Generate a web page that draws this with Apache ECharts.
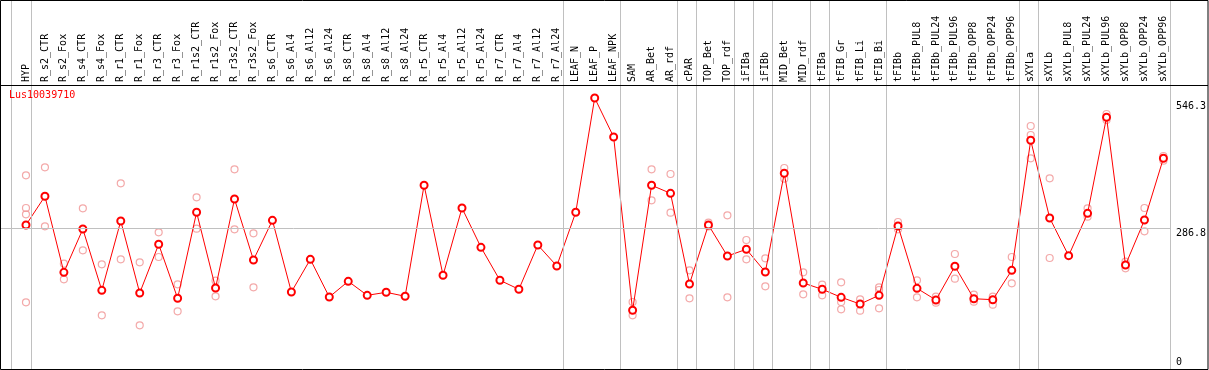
<!DOCTYPE html>
<html>
<head>
<meta charset="utf-8">
<script src="https://cdn.jsdelivr.net/npm/echarts@6/dist/echarts.min.js"></script>
<style>
html,body{margin:0;padding:0;background:#fff;}
#chart{width:1209px;height:370px;}
</style>
</head>
<body>
<div id="chart"></div>
<script>
const geneName = 'Lus10039710';
const categories = ['HYP','R_s2_CTR','R_s2_Fox','R_s4_CTR','R_s4_Fox','R_r1_CTR','R_r1_Fox','R_r3_CTR','R_r3_Fox','R_r1s2_CTR','R_r1s2_Fox','R_r3s2_CTR','R_r3s2_Fox','R_s6_CTR','R_s6_Al4','R_s6_Al12','R_s6_Al24','R_s8_CTR','R_s8_Al4','R_s8_Al12','R_s8_Al24','R_r5_CTR','R_r5_Al4','R_r5_Al12','R_r5_Al24','R_r7_CTR','R_r7_Al4','R_r7_Al12','R_r7_Al24','LEAF_N','LEAF_P','LEAF_NPK','SAM','AR_Bet','AR_rdf','cPAR','TOP_Bet','TOP_rdf','iFIBa','iFIBb','MID_Bet','MID_rdf','tFIBa','tFIB_Gr','tFIB_Li','tFIB_Bi','tFIBb','tFIBb_PUL8','tFIBb_PUL24','tFIBb_PUL96','tFIBb_OPP8','tFIBb_OPP24','tFIBb_OPP96','sXYLa','sXYLb','sXYLb_PUL8','sXYLb_PUL24','sXYLb_PUL96','sXYLb_OPP8','sXYLb_OPP24','sXYLb_OPP96'];
const means = [293.0,352.0,195.7,284.7,158.7,301.2,153.2,253.3,142.3,319.1,163.4,346.4,221.0,302.6,155.2,222.4,144.9,177.2,148.4,154.6,146.4,374.6,189.6,327.9,247.1,179.3,160.8,251.8,208.7,319.1,554.1,473.9,117.6,374.6,358.1,171.7,293.0,229.2,243.0,196.3,399.3,173.7,160.8,144.3,130.5,148.4,290.9,162.8,138.8,208.1,141.4,139.4,199.8,467.1,307.4,229.9,317.0,514.4,210.7,303.2,430.1];
const replicates = [
  [395.1,327.9,315.0,134.0],[411.6,290.3],[213.4,181.3],[327.3,241.0],[212.2,107.3],[378.7,222.4],[216.3,86.8],[278.0,227.2],[171.1,115.5],[349.9,285.4],[178.5,146.4],[407.5,284.1],[275.9,164.9],
  [],[],[],[],[],[],[],[],[],[],[],[],[],[],[],[],
  [],[],[],
  [134.7,107.3],[407.5,343.7],[397.8,318.3],[199.8,142.3],[297.7,290.0],[312.9,144.3],[262.1,222.4],[224.5,166.9],[410.2,388.2],[195.7,150.5],[170.2,148.4],[175.2,134.7,119.7],[140.2,116.8],[164.9,159.3,121.7],[299.1,284.1],
  [179.3,144.3],[145.6,133.2],[233.3,182.6],[149.7,135.3],[145.6,129.1],[227.2,173.1],
  [496.5,478.0,430.1],[389.0,225.1],[],[327.3,310.0],[521.2,508.8],[217.5,203.9],[327.9,280.0],[434.8,425.2]
];
const yTickLabels = [0, 286.8, 546.3];
const gridLineValues = [286.8];
const groupBreaksAfter = ['HYP','R_r7_Al24','LEAF_NPK','AR_rdf','cPAR','TOP_rdf','iFIBa','iFIBb','MID_rdf','tFIBa','tFIB_Bi','tFIBb_OPP96','sXYLa','sXYLb_OPP96'];

const FONT = 'DejaVu Sans Mono';
const K = 0.4864;            // px per unit
const ZERO_Y = 367.5;        // pixel of value 0
const yMin0 = (ZERO_Y - 369) / K;
const yMax0 = (ZERO_Y - 85) / K;
const yMax1 = ZERO_Y / K;
const step = 19, firstX = 26;
const x1Min = (1 - firstX) / step;
const x1Max = (1171 - firstX) / step;

const sepValues = [-0.8].concat(groupBreaksAfter.map(n => Math.min(categories.indexOf(n) + 0.25, x1Max - 0.05)));
const scatterData = [];
replicates.forEach((arr, i) => arr.forEach(v => scatterData.push([i, v])));

const chart = echarts.init(document.getElementById('chart'), null, {renderer: 'canvas'});
chart.setOption({
  backgroundColor: '#ffffff',
  animation: false,
  title: {
    text: geneName, left: 9, top: 90, padding: 0,
    textStyle: {color: '#ff0000', fontSize: 10, fontWeight: 'normal', fontFamily: FONT}
  },
  grid: [
    {left: 16.5, right: 33.5, top: 85, bottom: 1, containLabel: false},
    {left: 1, right: 38, top: 0, bottom: 1, containLabel: false}
  ],
  xAxis: [
    {
      type: 'category', gridIndex: 0, position: 'top', data: categories, boundaryGap: true,
      axisLine: {show: false}, axisTick: {show: false}, splitLine: {show: false},
      axisLabel: {rotate: 90, interval: 0, margin: 3, color: '#000', fontSize: 10, fontFamily: FONT}
    },
    {type: 'value', gridIndex: 1, min: x1Min, max: x1Max, show: false}
  ],
  yAxis: [
    {
      type: 'value', gridIndex: 0, position: 'right', min: yMin0, max: yMax0,
      axisLine: {show: false}, axisTick: {show: false}, splitLine: {show: false},
      axisLabel: {customValues: yTickLabels.filter(v => v !== 0), verticalAlign: 'top', align: 'left', margin: 3,
        color: '#000', fontSize: 10, fontFamily: FONT, formatter: v => String(v)}
    },
    {type: 'value', gridIndex: 1, min: yMin0, max: yMax1, show: false},
    {
      type: 'value', gridIndex: 0, position: 'right', min: yMin0, max: yMax0,
      axisLine: {show: false}, axisTick: {show: false}, splitLine: {show: false},
      axisLabel: {customValues: yTickLabels.filter(v => v === 0), verticalAlign: 'bottom', align: 'left', margin: 3,
        color: '#000', fontSize: 10, fontFamily: FONT, formatter: v => String(v)}
    }
  ],
  series: [
    {
      type: 'line', xAxisIndex: 1, yAxisIndex: 1, data: [], silent: true, z: 1,
      markLine: {
        silent: true, symbol: 'none', animation: false,
        label: {show: false},
        lineStyle: {color: '#c0c0c0', width: 1, type: 'solid'},
        data: sepValues.map(v => ({xAxis: v})).concat(gridLineValues.map(v => ({yAxis: v})))
      }
    },
    {
      type: 'scatter', xAxisIndex: 0, yAxisIndex: 0, data: scatterData, z: 3,
      symbol: 'circle', symbolSize: 7,
      itemStyle: {color: 'rgba(255,255,255,0)', borderColor: '#f09494', borderWidth: 1.2}
    },
    {
      type: 'line', xAxisIndex: 0, yAxisIndex: 0, data: means, z: 4,
      symbol: 'emptyCircle', symbolSize: 7, showAllSymbol: true,
      lineStyle: {color: '#ff0000', width: 1},
      itemStyle: {color: '#ff0000', borderColor: '#ff0000', borderWidth: 1.6}
    }
  ],
  graphic: [
    {type: 'rect', silent: true, z: 10, shape: {x: 0.5, y: 0.5, width: 1207.5, height: 369}, style: {fill: 'none', stroke: '#000', lineWidth: 1}},
    {type: 'line', silent: true, z: 10, shape: {x1: 0, y1: 85.5, x2: 1208, y2: 85.5}, style: {stroke: '#000', lineWidth: 1}}
  ]
});
</script>
</body>
</html>
